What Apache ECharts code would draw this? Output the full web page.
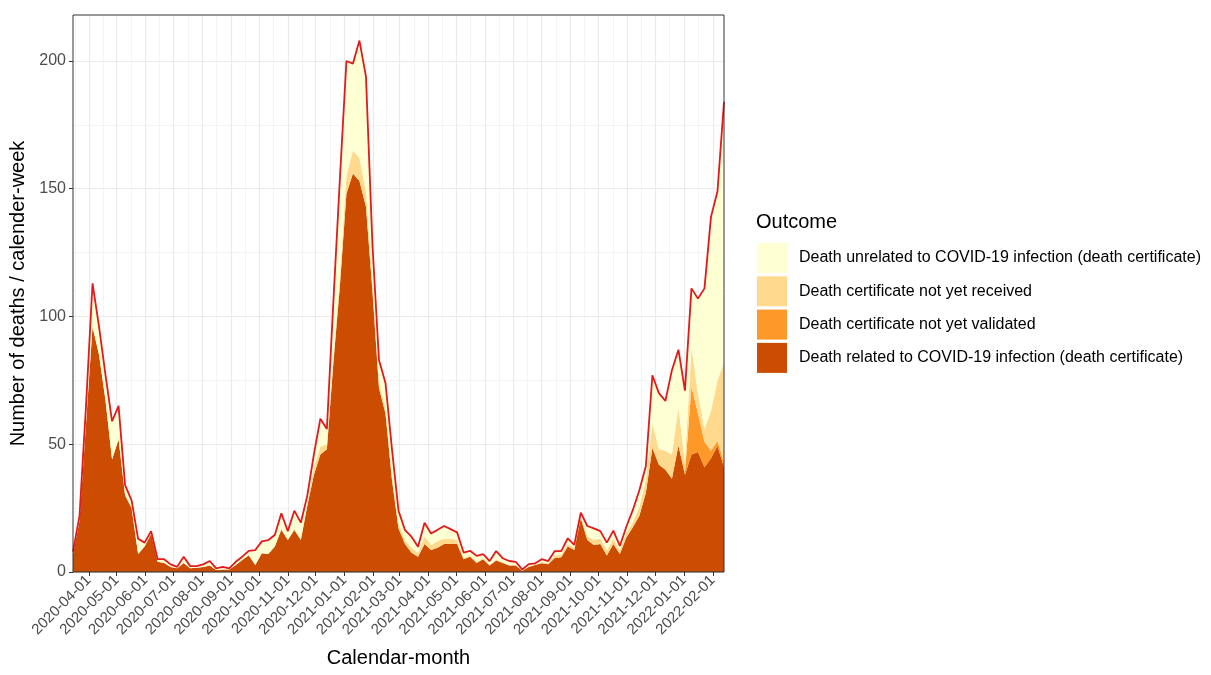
<!DOCTYPE html>
<html>
<head>
<meta charset="utf-8">
<script src="https://cdn.jsdelivr.net/npm/echarts@6/dist/echarts.min.js"></script>
<style>
html,body{margin:0;padding:0;background:#fff;}
#chart{width:1211px;height:675px;}
</style>
</head>
<body>
<div id="chart"></div>
<script>
// ---- weekly categories (calendar weeks) ----
const weekDates = [
'2020-03-15','2020-03-22','2020-03-29','2020-04-05','2020-04-12','2020-04-19','2020-04-26','2020-05-03','2020-05-10','2020-05-17',
'2020-05-24','2020-05-31','2020-06-07','2020-06-14','2020-06-21','2020-06-28','2020-07-05','2020-07-12','2020-07-19','2020-07-26',
'2020-08-02','2020-08-09','2020-08-16','2020-08-23','2020-08-30','2020-09-06','2020-09-13','2020-09-20','2020-09-27','2020-10-04',
'2020-10-11','2020-10-18','2020-10-25','2020-11-01','2020-11-08','2020-11-15','2020-11-22','2020-11-29','2020-12-06','2020-12-13',
'2020-12-20','2020-12-27','2021-01-03','2021-01-10','2021-01-17','2021-01-24','2021-01-31','2021-02-07','2021-02-14','2021-02-21',
'2021-02-28','2021-03-07','2021-03-14','2021-03-21','2021-03-28','2021-04-04','2021-04-11','2021-04-18','2021-04-25','2021-05-02',
'2021-05-09','2021-05-16','2021-05-23','2021-05-30','2021-06-06','2021-06-13','2021-06-20','2021-06-27','2021-07-04','2021-07-11',
'2021-07-18','2021-07-25','2021-08-01','2021-08-08','2021-08-15','2021-08-22','2021-08-29','2021-09-05','2021-09-12','2021-09-19',
'2021-09-26','2021-10-03','2021-10-10','2021-10-17','2021-10-24','2021-10-31','2021-11-07','2021-11-14','2021-11-21','2021-11-28',
'2021-12-05','2021-12-12','2021-12-19','2021-12-26','2022-01-02','2022-01-09','2022-01-16','2022-01-23','2022-01-30','2022-02-06',
'2022-02-13'
];

// ---- series values (deaths per calendar week) ----
const relatedDeaths = [
7,20,58,96,85,67,44,52,30,25,
7,10,15,4,3.5,2,1.5,3.5,1.5,1.7,
2,2.5,0.8,1,1,2.7,4.7,6.6,2.7,7.3,
7,10,16.5,12.5,16.4,12.5,26,38,46,48,
82,112,148,156,153,143,110,72,62,36,
17,11,7.5,6,11,8.6,9.5,11,11,11,
5,6,3.5,5,2.5,4.5,3.5,2.5,2.5,0.5,
2,2.7,3.4,3,5.5,5.8,10,8.6,21,12.5,
10.6,11,6.5,11,7,13.5,17.5,22,31,48.5,
42,40,36.5,49.5,38,46,47,41,44.5,49.3,
41
];
const notValidated = [
0,0,0,0,0,0,0,0,0,0,
0,0,0,0,0,0,0,0,0,0,
0,0,0,0,0,0,0,0,0,0,
0,0,0,0,0,0,0,0,0,0,
0,0,0,0,0,0,0,0,0,0,
0,0,0,0,0,0,0,0,0,0,
0,0,0,0,0,0,0,0,0,0,
0,0,0,0,0,0,0,0,0,0,
0,0,0,0,0,0,0,0,0,0,
0,0,0,0,1,26.5,15,10,3,2,
2
];
const notReceived = [
0,0,0,0,0,0,0,0,0,0,
0,0,0,0,0,0,0,0,0,0,
0,0,0,0,0,0,0,0,0,0,
0,0,0.5,0,0.5,0.5,0.5,3,3,2,
2,4,7,9,9,6,3,2,2,2,
2,1.5,2,1.5,3,2,2.5,2,2,1.5,
0.5,0.5,0.5,0.5,0.3,0.5,0.3,0.3,0.3,0,
0.3,0.2,0.5,0.5,1,1,1,1,1,1.5,
2,2,2,2,1.5,2,2,3.5,5,9.5,
6,7.5,9.5,15,4,15.5,8,5,15.5,23.7,
39
];
const unrelatedDeaths = [
1,2,7,17,11,10,15,13,4,3,
6,1.5,1,1,1.5,1,0.5,2.5,0.8,0.6,
1,1.8,0.6,1,0.4,1.3,1.3,1.7,5.9,4.7,
5.5,4.5,6,3.5,7.1,6.3,3.5,5,11,6,
22,38,45,34,46,45,15,9,10,10,
5,3.9,4.3,2.4,5.3,4.5,4.5,5,3.8,3,
2.1,1.8,2.3,1.5,1.5,3.2,1.6,1.5,1.2,0.5,
0.8,0.5,1.1,0.8,1.7,1.4,2.2,1,1.2,4,
4.5,3,3,3.2,1.7,2.2,4.8,6.5,5.5,19,
22,19.5,33,22.5,28,23,37,55,76,74,
102
];
const totalDeaths = [
8,22,65,113,96,77,59,65,34,28,
13,11.5,16,5,5,3,2,6,2.3,2.3,
3,4.3,1.4,2,1.4,4,6,8.3,8.6,12,
12.5,14.5,23,16,24,19.3,30,46,60,56,
106,154,200,199,208,194,128,83,74,48,
24,16.4,13.8,9.9,19.3,15.1,16.5,18,16.8,15.5,
7.6,8.3,6.3,7,4.3,8.2,5.4,4.3,4,1,
3.1,3.4,5,4.3,8.2,8.2,13.2,10.6,23.2,18,
17.1,16,11.5,16.2,10.2,17.7,24.3,32,41.5,77,
70,67,79,87,71,111,107,111,139,149,
184
];

// ---- tick labels ----
const monthTicks = [
'2020-04-01','2020-05-01','2020-06-01','2020-07-01','2020-08-01','2020-09-01','2020-10-01','2020-11-01',
'2020-12-01','2021-01-01','2021-02-01','2021-03-01','2021-04-01','2021-05-01','2021-06-01','2021-07-01',
'2021-08-01','2021-09-01','2021-10-01','2021-11-01','2021-12-01','2022-01-01','2022-02-01'
];
const yMajorTicks = [0,50,100,150,200];
const yMinorTicks = [25,75,125,175];

const seriesNames = {
  unrelated: 'Death unrelated to COVID-19 infection (death certificate)',
  received: 'Death certificate not yet received',
  validated: 'Death certificate not yet validated',
  related: 'Death related to COVID-19 infection (death certificate)'
};
const colors = {
  unrelated: '#FFFFD4', received: '#FED98E', validated: '#FE9929', related: '#CC4C02', total: '#E3191C'
};

const ts = s => Date.parse(s + 'T00:00:00Z');
const weekTs = weekDates.map(ts);
const monthTs = monthTicks.map(ts);
const xMin = weekTs[0], xMax = weekTs[weekTs.length - 1];
// minor grid breaks: midpoints between major breaks (one extra break before the first)
const ext = [monthTs[0] - (monthTs[1] - monthTs[0])].concat(monthTs);
const minorTs = [];
for (let k = 0; k < ext.length - 1; k++) minorTs.push((ext[k] + ext[k + 1]) / 2);
const minorX = minorTs.filter(v => v >= xMin && v <= xMax);

const FONT = 'Liberation Sans, Arial, Helvetica, sans-serif';
const pair = arr => weekTs.map((t, i) => [t, arr[i]]);
const layer = (key, arr) => ({
  name: seriesNames[key], type: 'line', stack: 'deaths', data: pair(arr),
  xAxisIndex: 0, yAxisIndex: 0,
  symbol: 'none', showSymbol: false, smooth: false,
  lineStyle: { width: 0, color: colors[key] },
  itemStyle: { color: colors[key] },
  areaStyle: { color: colors[key], opacity: 1 },
  emphasis: { disabled: true }, silent: true, z: 2
});

const chart = echarts.init(document.getElementById('chart'), null, { renderer: 'canvas' });
chart.setOption({
  animation: false,
  useUTC: true,
  backgroundColor: '#ffffff',
  textStyle: { fontFamily: FONT },
  title: {
    text: 'Outcome', left: 756, top: 212, padding: 0,
    textStyle: { fontSize: 20, fontWeight: 'normal', color: '#000', fontFamily: FONT }
  },
  legend: {
    orient: 'vertical', left: 757, top: 243, padding: 0,
    itemWidth: 30, itemHeight: 30, itemGap: 3.3, icon: 'rect', selectedMode: false,
    data: [seriesNames.unrelated, seriesNames.received, seriesNames.validated, seriesNames.related],
    textStyle: { fontSize: 16, color: '#000', fontFamily: FONT, padding: [0, 0, 0, 7] }
  },
  grid: {
    left: 73, top: 15, right: 487, bottom: 103, containLabel: false, outerBoundsMode: 'none',
    show: true, z: 10, backgroundColor: 'transparent', borderColor: '#333333', borderWidth: 1
  },
  xAxis: [
    {
      // data axis (time) used by the series; its own decorations hidden
      type: 'time', min: xMin, max: xMax, position: 'bottom',
      axisLine: { show: false }, axisTick: { show: false }, axisLabel: { show: false },
      splitLine: { show: false }, z: 0
    },
    {
      // month breaks: ticks, labels, major grid
      type: 'value', min: xMin, max: xMax, scale: true, position: 'bottom',
      name: 'Calendar-month', nameLocation: 'middle', nameGap: 76,
      nameTextStyle: { fontSize: 20, color: '#000', fontFamily: FONT },
      axisLine: { show: false },
      axisTick: { show: true, length: 4, lineStyle: { color: '#333333', width: 1 }, customValues: monthTs },
      axisLabel: {
        customValues: monthTs, rotate: 45, fontSize: 15, color: '#4D4D4D', margin: 6, fontFamily: FONT,
        hideOverlap: false,
        formatter: v => new Date(v).toISOString().slice(0, 10)
      },
      splitLine: { show: true, lineStyle: { color: '#EBEBEB', width: 1.2 } },
      z: 0
    },
    {
      // minor breaks: grid only
      type: 'value', min: xMin, max: xMax, scale: true, position: 'bottom',
      axisLine: { show: false },
      axisTick: { show: false, customValues: minorX },
      axisLabel: { show: false },
      splitLine: { show: true, lineStyle: { color: '#EFEFEF', width: 0.7 } },
      z: 0
    }
  ],
  yAxis: [
    {
      type: 'value', min: 0, max: 218,
      name: 'Number of deaths / calender-week', nameLocation: 'middle', nameGap: 44,
      nameTextStyle: { fontSize: 20, color: '#000', fontFamily: FONT },
      axisLine: { show: false },
      axisTick: { show: true, length: 4, lineStyle: { color: '#333333', width: 1 }, customValues: yMajorTicks },
      axisLabel: { customValues: yMajorTicks, fontSize: 16, color: '#4D4D4D', margin: 7, fontFamily: FONT },
      splitLine: { show: true, lineStyle: { color: '#EBEBEB', width: 1.2 } },
      z: 0
    },
    {
      type: 'value', min: 0, max: 218, position: 'left',
      axisLine: { show: false },
      axisTick: { show: false, customValues: yMinorTicks },
      axisLabel: { show: false },
      splitLine: { show: true, lineStyle: { color: '#EFEFEF', width: 0.7 } },
      z: 0
    }
  ],
  series: [
    layer('related', relatedDeaths),
    layer('validated', notValidated),
    layer('received', notReceived),
    layer('unrelated', unrelatedDeaths),
    {
      name: 'Total', type: 'line', data: pair(totalDeaths),
      xAxisIndex: 0, yAxisIndex: 0,
      symbol: 'none', showSymbol: false,
      lineStyle: { color: colors.total, width: 1.8 },
      itemStyle: { color: colors.total },
      emphasis: { disabled: true }, silent: true, z: 3
    }
  ]
});
</script>
</body>
</html>
